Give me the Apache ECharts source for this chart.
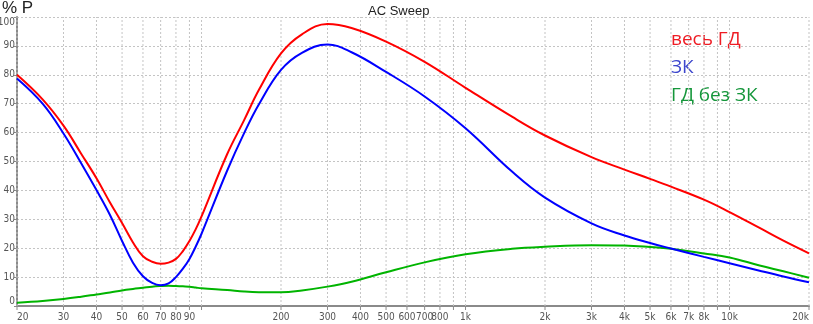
<!DOCTYPE html>
<html>
<head>
<meta charset="utf-8">
<script src="https://cdn.jsdelivr.net/npm/echarts@6/dist/echarts.min.js"></script>
<style>
  html, body { margin: 0; padding: 0; background: #fff; }
  #chart { width: 813px; height: 324px; }
</style>
</head>
<body>
<div id="chart"></div>
<script>
// frequencies, Hz
var freqs = [20, 25, 30, 35, 40, 45, 50, 55, 60, 65, 70, 75, 80, 85, 90, 95, 100, 125, 145, 165, 200, 240, 300, 370, 500, 700, 1000, 1500, 2000, 3000, 4000, 5000, 6000, 8000, 10000, 13000, 16000, 20000];
// % P
var fullDriver = [80.0, 71.5, 62.4, 52.7, 44.2, 35.8, 28.7, 22.0, 17.2, 15.3, 14.6, 15.0, 16.3, 19.0, 22.5, 26.5, 31.0, 52.5, 64.3, 74.8, 87.4, 94.0, 97.6, 96.2, 91.5, 84.5, 75.5, 65.5, 59.0, 51.5, 47.2, 44.0, 41.3, 36.8, 32.5, 27.0, 22.6, 18.2];
var backCavity = [78.7, 70.0, 59.7, 49.4, 40.1, 31.5, 22.5, 15.0, 10.3, 8.0, 7.2, 7.8, 10.0, 12.9, 16.3, 20.5, 25.0, 46.8, 59.8, 69.8, 81.7, 87.6, 90.5, 87.8, 81.0, 72.5, 61.5, 46.5, 37.5, 28.6, 24.4, 21.8, 19.9, 17.0, 14.8, 12.2, 10.2, 8.2];
var withoutCavity = [1.1, 1.7, 2.4, 3.2, 4.0, 4.7, 5.4, 5.9, 6.3, 6.7, 6.9, 7.0, 6.9, 6.8, 6.7, 6.4, 6.1, 5.5, 5.0, 4.8, 4.8, 5.4, 6.7, 8.4, 11.7, 15.1, 17.9, 19.8, 20.5, 21.0, 20.9, 20.4, 19.8, 18.2, 16.8, 14.0, 12.0, 9.8];

var seriesNames = ['весь ГД', 'ЗК', 'ГД без ЗК'];

// x grid lines and their labels
var gridFreqs = [20, 30, 40, 50, 60, 70, 80, 90, 100, 200, 300, 400, 500, 600, 700, 800, 900, 1000, 2000, 3000, 4000, 5000, 6000, 7000, 8000, 9000, 10000, 20000];
var xTickLabels = ['20', '30', '40', '50', '60', '70', '80', '90', '', '200', '300', '400', '500', '600', '700', '800', '', '1k', '2k', '3k', '4k', '5k', '6k', '7k', '8k', '', '10k', '20k'];

function pairs(vals) {
    var out = [];
    for (var i = 0; i < freqs.length; i++) {
        out.push([freqs[i], vals[i]]);
    }
    return out;
}

var myChart = echarts.init(document.getElementById('chart'));

var gridColor = '#c4c4c4';
var axisColor = '#8a8a8a';
var tickFont = '"Liberation Sans Narrow", "DejaVu Sans Condensed", "Liberation Sans"';

var option = {
    backgroundColor: '#fff',
    animation: false,
    title: {
        text: 'AC Sweep',
        left: 363,
        top: 0,
        textStyle: { fontSize: 13, fontWeight: 'normal', color: '#222', fontFamily: 'Liberation Sans' }
    },
    grid: { left: 17, right: 4, top: 17, bottom: 18, outerBoundsMode: 'none', containLabel: false },
    xAxis: {
        type: 'log',
        logBase: 10,
        min: 20,
        max: 20000,
        axisLine: { show: true, lineStyle: { color: axisColor, width: 2 } },
        axisTick: { show: false },
        axisLabel: { show: false },
        splitLine: { show: false }
    },
    yAxis: {
        type: 'value',
        min: 0,
        max: 100,
        interval: 10,
        axisLine: { show: true, lineStyle: { color: axisColor, width: 2 } },
        axisTick: { show: true, length: 3, lineStyle: { color: axisColor } },
        axisLabel: {
            margin: 2,
            fontSize: 10,
            color: '#555',
            fontFamily: tickFont,
            verticalAlignMinLabel: 'bottom',
            verticalAlignMaxLabel: 'top'
        },
        splitLine: { show: true, lineStyle: { color: gridColor, type: [2, 2], width: 1 } }
    },
    graphic: [
        { type: 'text', left: 2, top: 0, style: { text: '% P', font: '17px "Liberation Sans"', fill: '#222' } },
        { type: 'text', x: 671, y: 40, style: { text: seriesNames[0], font: '19px "Open Sans"', fill: '#ee1c24', verticalAlign: 'middle' } },
        { type: 'text', x: 671, y: 68, style: { text: seriesNames[1], font: '19px "Open Sans"', fill: '#3c46cc', verticalAlign: 'middle' } },
        { type: 'text', x: 671, y: 96, style: { text: seriesNames[2], font: '19px "Open Sans"', fill: '#14963a', verticalAlign: 'middle' } }
    ],
    series: [
        {
            type: 'custom',
            silent: true,
            clip: false,
            z: 1,
            data: gridFreqs.map(function (f) { return [f, 0]; }),
            renderItem: function (params, api) {
                var f = api.value(0);
                var p0 = api.coord([f, 0]);
                var p1 = api.coord([f, 100]);
                var i = params.dataIndex;
                var align = 'center';
                if (i === 0) align = 'left';
                if (i === gridFreqs.length - 1) align = 'right';
                return {
                    type: 'group',
                    children: [
                        {
                            type: 'line',
                            shape: { x1: p0[0], y1: p0[1], x2: p1[0], y2: p1[1] },
                            style: { stroke: gridColor, lineWidth: 1, lineDash: [2, 2] }
                        },
                        {
                            type: 'line',
                            shape: { x1: p0[0], y1: p0[1], x2: p0[0], y2: p0[1] + 4 },
                            style: { stroke: axisColor, lineWidth: 1 }
                        },
                        {
                            type: 'text',
                            x: p0[0],
                            y: p0[1] + 11,
                            style: {
                                text: xTickLabels[i],
                                align: align,
                                verticalAlign: 'middle',
                                font: '10px ' + tickFont,
                                fill: '#555'
                            }
                        }
                    ]
                };
            }
        },
        {
            name: seriesNames[0],
            type: 'line',
            data: pairs(fullDriver),
            smooth: 0.4,
            showSymbol: false,
            z: 4,
            lineStyle: { color: '#ff0000', width: 2 }
        },
        {
            name: seriesNames[1],
            type: 'line',
            data: pairs(backCavity),
            smooth: 0.4,
            showSymbol: false,
            z: 3,
            lineStyle: { color: '#0000ff', width: 2 }
        },
        {
            name: seriesNames[2],
            type: 'line',
            data: pairs(withoutCavity),
            smooth: 0.4,
            showSymbol: false,
            z: 2,
            lineStyle: { color: '#00b400', width: 2 }
        }
    ]
};

myChart.setOption(option);
</script>
</body>
</html>
